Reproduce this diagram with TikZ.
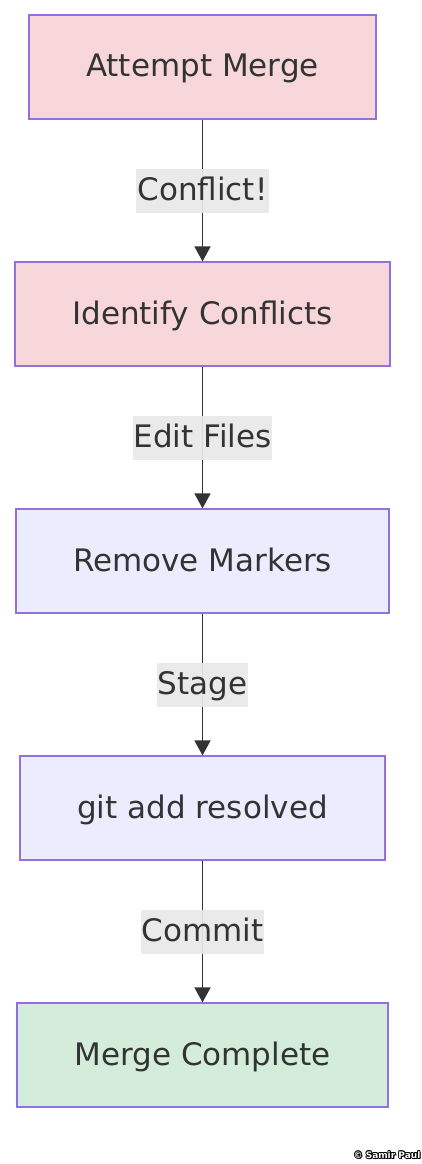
\documentclass[tikz,border=0pt]{standalone}
\usepackage{fontspec}
\setmainfont{DejaVu Sans}
\usetikzlibrary{arrows.meta}
\definecolor{txt}{HTML}{333333}
\definecolor{edge}{HTML}{9370DB}
\definecolor{pinkf}{HTML}{F8D7DA}
\definecolor{lavf}{HTML}{ECECFF}
\definecolor{greenf}{HTML}{D4EDDA}
\definecolor{lblf}{HTML}{E8E8E8}
\tikzset{
  flowbox/.style={draw=edge, line width=1.2pt, minimum height=104pt, text=txt, font=\fontsize{31}{36}\selectfont, inner sep=0pt, text height=23pt, text depth=3pt},
  flowarrow/.style={draw=txt, line width=1.7pt, -{Triangle[length=15pt,width=16pt]}},
  flowlabel/.style={fill=lblf, fill opacity=0.92, text opacity=1, text=txt, font=\fontsize{31}{36}\selectfont, inner xsep=1pt, inner ysep=0pt, minimum height=44pt, text height=23pt, text depth=3pt},
}
\begin{document}
\begin{tikzpicture}[x=1pt,y=-1pt]
\useasboundingbox (0,0) rectangle (422,1164);
\node[flowbox, fill=pinkf, minimum width=347pt] (a) at (202.5,67) {Attempt Merge};
\node[flowbox, fill=pinkf, minimum width=375pt] (b) at (202.5,314) {Identify Conflicts};
\node[flowbox, fill=lavf, minimum width=373pt] (c) at (202.5,561) {Remove Markers};
\node[flowbox, fill=lavf, minimum width=365pt] (d) at (202.5,808) {git add resolved};
\node[flowbox, fill=greenf, minimum width=371pt] (e) at (202.5,1055) {Merge Complete};
\draw[flowarrow] (a) -- node[flowlabel] {Conflict!} (b);
\draw[flowarrow] (b) -- node[flowlabel] {Edit Files} (c);
\draw[flowarrow] (c) -- node[flowlabel] {Stage} (d);
\draw[flowarrow] (d) -- node[flowlabel] {Commit} (e);
\foreach \dx/\dy in {-0.8/0,0.8/0,0/-0.8,0/0.8,0.6/0.6,-0.6/0.6,0.6/-0.6,-0.6/-0.6,1.2/1.2}
  \node[text=black, font=\fontsize{9}{10}\selectfont\bfseries, inner sep=0pt] at (387+\dx,1155+\dy) {© Samir Paul};
\node[text=white, font=\fontsize{9}{10}\selectfont\bfseries, inner sep=0pt] (wm) at (387,1155) {© Samir Paul};
\end{tikzpicture}
\end{document}
